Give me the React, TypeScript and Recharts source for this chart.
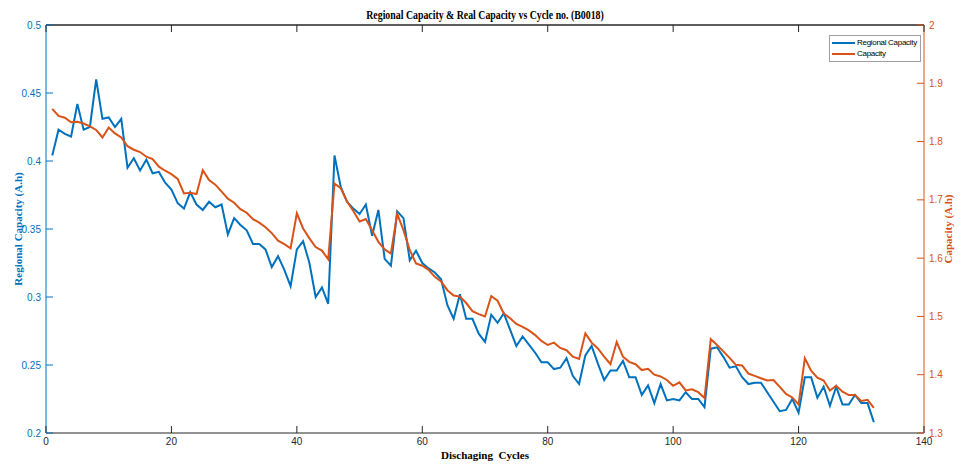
import React from 'react';
import { LineChart, Line, XAxis, YAxis, ReferenceLine } from 'recharts';

// Regional capacity (A.h), cycles 1..132
const regionalCapacity = [
  0.404, 0.423, 0.420, 0.418, 0.442, 0.423, 0.425, 0.460, 0.431, 0.432,
  0.425, 0.431, 0.395, 0.402, 0.393, 0.401, 0.391, 0.392, 0.384, 0.379,
  0.369, 0.365, 0.377, 0.368, 0.364, 0.370, 0.366, 0.368, 0.346, 0.358,
  0.353, 0.349, 0.339, 0.339, 0.335, 0.322, 0.330, 0.320, 0.308, 0.335,
  0.341, 0.325, 0.300, 0.307, 0.295, 0.404, 0.381, 0.370, 0.365, 0.361,
  0.368, 0.345, 0.364, 0.328, 0.323, 0.363, 0.358, 0.327, 0.334, 0.325,
  0.321, 0.318, 0.313, 0.294, 0.284, 0.302, 0.284, 0.284, 0.273, 0.267,
  0.287, 0.281, 0.288, 0.276, 0.264, 0.271, 0.265, 0.259, 0.252, 0.252,
  0.247, 0.248, 0.255, 0.242, 0.236, 0.257, 0.264, 0.251, 0.239, 0.246,
  0.246, 0.253, 0.241, 0.241, 0.228, 0.235, 0.222, 0.236, 0.224, 0.225,
  0.224, 0.230, 0.225, 0.225, 0.219, 0.262, 0.263, 0.256, 0.248, 0.249,
  0.241, 0.236, 0.237, 0.237, 0.230, 0.223, 0.216, 0.217, 0.225, 0.215,
  0.241, 0.241, 0.226, 0.234, 0.220, 0.234, 0.221, 0.221, 0.228, 0.222,
  0.222, 0.208,
];

// Real capacity (A.h), cycles 1..132
const capacity = [
  1.856, 1.844, 1.841, 1.833, 1.834, 1.831, 1.826, 1.820, 1.807, 1.824,
  1.814, 1.807, 1.792, 1.786, 1.782, 1.774, 1.770, 1.757, 1.750, 1.744,
  1.736, 1.711, 1.712, 1.710, 1.751, 1.734, 1.726, 1.714, 1.702, 1.695,
  1.684, 1.678, 1.667, 1.661, 1.653, 1.643, 1.630, 1.624, 1.617, 1.677,
  1.651, 1.634, 1.619, 1.613, 1.598, 1.728, 1.720, 1.697, 1.681, 1.663,
  1.667, 1.648, 1.628, 1.615, 1.608, 1.676, 1.648, 1.614, 1.591, 1.587,
  1.580, 1.568, 1.560, 1.545, 1.536, 1.534, 1.523, 1.509, 1.504, 1.500,
  1.535, 1.527, 1.505, 1.497, 1.487, 1.482, 1.476, 1.468, 1.458, 1.451,
  1.455, 1.446, 1.442, 1.431, 1.427, 1.471, 1.455, 1.445, 1.431, 1.418,
  1.456, 1.431, 1.422, 1.418, 1.408, 1.410, 1.400, 1.397, 1.391, 1.381,
  1.387, 1.373, 1.375, 1.370, 1.360, 1.461, 1.451, 1.440, 1.429, 1.417,
  1.416, 1.402, 1.398, 1.394, 1.390, 1.391, 1.379, 1.367, 1.361, 1.349,
  1.428, 1.407, 1.395, 1.390, 1.373, 1.381, 1.371, 1.365, 1.365, 1.355,
  1.357, 1.343,
];

const xTicks = [0, 20, 40, 60, 80, 100, 120, 140];
const leftTicks = [0.2, 0.25, 0.3, 0.35, 0.4, 0.45, 0.5];
const rightTicks = [1.3, 1.4, 1.5, 1.6, 1.7, 1.8, 1.9, 2];

const data = regionalCapacity.map((v, i) => ({
  cycle: i + 1,
  regional: v,
  capacity: capacity[i],
}));

const BLUE = '#0072BD';
const ORANGE = '#D95319';
const GREY = '#262626';
const tickFont = '"Liberation Sans", Arial, sans-serif';
const serif = '"Liberation Serif", "Times New Roman", serif';

const legendItems = [
  { name: 'Regional Capacity', color: BLUE },
  { name: 'Capacity', color: ORANGE },
];

// MATLAB style: tick marks point into the plot, labels outside
const BottomTick = ({ x, y, payload }: any) => (
  <g>
    <line x1={x} x2={x} y1={y} y2={y - 7} stroke={GREY} strokeWidth={1} />
    <text x={x} y={y + 12} textAnchor="middle" fontSize={10} fontFamily={tickFont} fill={GREY}>
      {payload.value}
    </text>
  </g>
);

const TopTick = ({ x, y }: any) => (
  <line x1={x} x2={x} y1={y} y2={y + 7} stroke={GREY} strokeWidth={1} />
);

const LeftTick = ({ x, y, payload }: any) => (
  <g>
    <line x1={x} x2={x + 7} y1={y} y2={y} stroke={BLUE} strokeWidth={1} />
    <text x={x - 5} y={y + 3.5} textAnchor="end" fontSize={10} fontFamily={tickFont} fill={BLUE}>
      {payload.value}
    </text>
  </g>
);

const RightTick = ({ x, y, payload }: any) => (
  <g>
    <line x1={x} x2={x - 7} y1={y} y2={y} stroke={ORANGE} strokeWidth={1} />
    <text x={x + 5} y={y + 3.5} textAnchor="start" fontSize={10} fontFamily={tickFont} fill={ORANGE}>
      {payload.value}
    </text>
  </g>
);

export default function App() {
  return (
    <div style={{ position: 'absolute', left: 0, top: 0, width: 960, height: 464, background: '#fff' }}>
      <div
        style={{
          position: 'absolute', left: 485, top: 15, transform: 'translate(-50%, -50%) scaleX(0.82)',
          whiteSpace: 'nowrap', fontFamily: serif, fontWeight: 'bold', fontSize: 12, color: '#000',
        }}
      >
        Regional Capacity &amp; Real Capacity vs Cycle no. (B0018)
      </div>
      <div
        style={{
          position: 'absolute', left: 18, top: 229, transform: 'translate(-50%, -50%) rotate(-90deg)',
          whiteSpace: 'nowrap', fontFamily: serif, fontWeight: 'bold', fontSize: 11, color: BLUE,
        }}
      >
        Regional Capacity (A.h)
      </div>
      <div
        style={{
          position: 'absolute', left: 948, top: 229, transform: 'translate(-50%, -50%) rotate(-90deg)',
          whiteSpace: 'nowrap', fontFamily: serif, fontWeight: 'bold', fontSize: 11, color: ORANGE,
        }}
      >
        Capacity (A.h)
      </div>
      <div
        style={{
          position: 'absolute', left: 485, top: 455, transform: 'translate(-50%, -50%)',
          whiteSpace: 'pre', fontFamily: serif, fontWeight: 'bold', fontSize: 11, color: '#000',
        }}
      >
        {'Dischaging  Cycles'}
      </div>
      <LineChart width={960} height={464} data={data} margin={{ top: 24, right: 0, bottom: 0, left: 0 }}>
        <XAxis
          xAxisId="bottom"
          dataKey="cycle"
          type="number"
          domain={[0, 140]}
          ticks={xTicks}
          height={31}
          tickSize={0}
          tickMargin={0}
          tickLine={false}
          tick={<BottomTick />}
          axisLine={{ stroke: GREY }}
          interval={0}
        />
        <XAxis
          xAxisId="top"
          orientation="top"
          dataKey="cycle"
          type="number"
          domain={[0, 140]}
          ticks={xTicks}
          height={1}
          tickSize={0}
          tickMargin={0}
          tickLine={false}
          tick={<TopTick />}
          axisLine={{ stroke: GREY }}
          interval={0}
        />
        <YAxis
          yAxisId="left"
          domain={[0.2, 0.5]}
          ticks={leftTicks}
          width={46}
          tickSize={0}
          tickMargin={0}
          tickLine={false}
          tick={<LeftTick />}
          axisLine={{ stroke: BLUE }}
          interval={0}
        />
        <YAxis
          yAxisId="right"
          orientation="right"
          domain={[1.3, 2]}
          ticks={rightTicks}
          width={36}
          tickSize={0}
          tickMargin={0}
          tickLine={false}
          tick={<RightTick />}
          axisLine={{ stroke: ORANGE }}
          interval={0}
        />
        {/* box top edge */}
        <ReferenceLine xAxisId="bottom" yAxisId="left" y={0.5} stroke={GREY} strokeWidth={1} />
        <Line
          xAxisId="bottom"
          yAxisId="left"
          dataKey="regional"
          name="Regional Capacity"
          stroke={BLUE}
          strokeWidth={2}
          dot={false}
          isAnimationActive={false}
        />
        <Line
          xAxisId="bottom"
          yAxisId="right"
          dataKey="capacity"
          name="Capacity"
          stroke={ORANGE}
          strokeWidth={2}
          dot={false}
          isAnimationActive={false}
        />
      </LineChart>
      <div
        style={{
          position: 'absolute', left: 829, top: 35, boxSizing: 'border-box',
          border: '1px solid #a0a0a0', background: '#fff', padding: '1px 3px 2px 2px',
          fontFamily: tickFont, fontSize: 8, letterSpacing: -0.3, color: '#000', lineHeight: '11px',
        }}
      >
        {legendItems.map((it) => (
          <div key={it.name} style={{ display: 'flex', alignItems: 'center', whiteSpace: 'nowrap' }}>
            <span
              style={{
                display: 'inline-block', flexShrink: 0, width: 23, height: 2,
                background: it.color, marginRight: 2,
              }}
            />
            <span>{it.name}</span>
          </div>
        ))}
      </div>
    </div>
  );
}
